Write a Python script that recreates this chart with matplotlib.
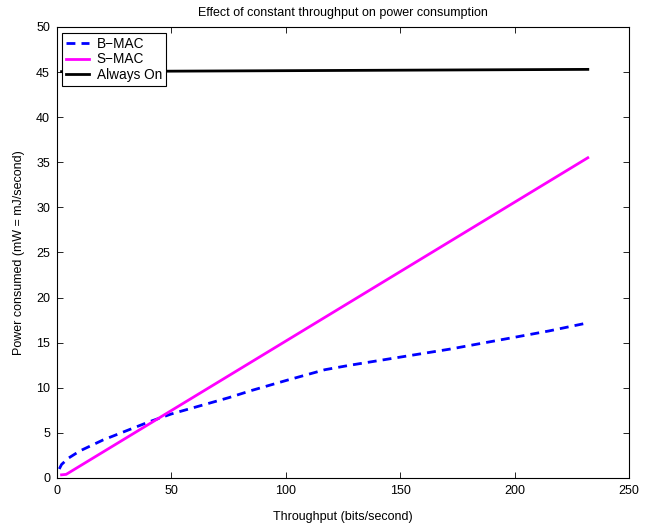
import numpy as np
from matplotlib import pyplot as plt

# values
bmac_x = [1, 2, 5, 10, 20, 30, 40, 50, 75, 85, 100, 117, 128, 150, 172, 200, 215, 232]
bmac_y = [1.0, 1.5, 2.2, 3.0, 4.2, 5.2, 6.2, 7.1, 8.9, 9.7, 10.8, 12.0, 12.5, 13.4, 14.3, 15.6, 16.3, 17.2]

smac_x = [2, 4, 232]
smac_y = [0.35, 0.4, 35.5]

always_x = [2, 232]
always_y = [45.05, 45.3]

labels = ['B\u2212MAC', 'S\u2212MAC', 'Always On']

plt.rcParams['font.family'] = 'Liberation Sans'
plt.rcParams['font.size'] = 9
plt.rcParams['xtick.direction'] = 'in'
plt.rcParams['ytick.direction'] = 'in'

fig = plt.figure(figsize=(6.52, 5.24), dpi=100)
ax = fig.add_axes([0.0874, 0.0878, 0.8773, 0.8607])

ax.plot(bmac_x, bmac_y, '--', color='#0000ff', lw=2, dashes=(3.2, 2.2), label=labels[0])
ax.plot(smac_x, smac_y, '-', color='#ff00ff', lw=2, label=labels[1])
ax.plot(always_x, always_y, '-', color='black', lw=2, label=labels[2])

ax.set_xlim(0, 250)
ax.set_ylim(0, 50)
ax.set_xticks(np.arange(0, 251, 50))
ax.set_yticks(np.arange(0, 51, 5))
ax.tick_params(top=True, right=True, length=4, width=0.6, pad=5)
for s in ax.spines.values():
    s.set_linewidth(0.8)

ax.set_title('Effect of constant throughput on power consumption', fontsize=9, pad=8)
ax.set_xlabel('Throughput (bits/second)', fontsize=9, labelpad=10)
ax.set_ylabel('Power consumed (mW = mJ/second)', fontsize=9, labelpad=8)

leg = ax.legend(loc='upper left', bbox_to_anchor=(0.009, 0.987), fancybox=False,
                edgecolor='black', framealpha=1, fontsize=9.8, borderpad=0.3,
                labelspacing=0.1, handlelength=1.7, handletextpad=0.55,
                borderaxespad=0)
leg.get_frame().set_linewidth(0.8)

fig.savefig('out.png', dpi=100)
plt.close(fig)
